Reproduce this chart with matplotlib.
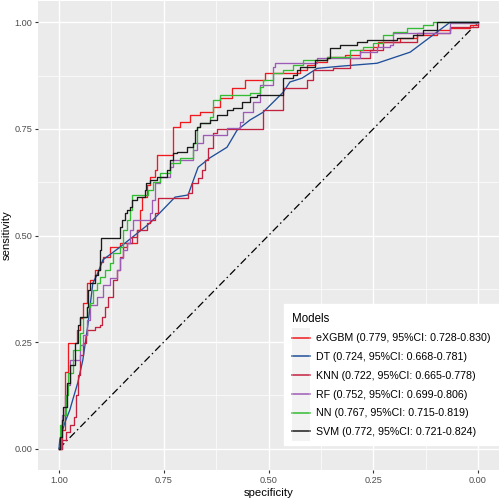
import matplotlib
matplotlib.use('Agg')
import matplotlib.pyplot as plt
from matplotlib.lines import Line2D
from matplotlib.patches import Rectangle

plt.rcParams['font.family'] = ['Liberation Sans', 'DejaVu Sans']

# models, AUC and 95% CI as shown in the legend
models = ['eXGBM', 'DT', 'KNN', 'RF', 'NN', 'SVM']
auc = [0.779, 0.724, 0.722, 0.752, 0.767, 0.772]
ci_low = [0.728, 0.668, 0.665, 0.699, 0.715, 0.721]
ci_high = [0.830, 0.781, 0.778, 0.806, 0.819, 0.824]
colors = ['#F0191E', '#1F4E9A', '#C2213F', '#9E5BB5', '#33BB33', '#1A1A1A']

# ROC points (specificity, sensitivity)
xgb_spec = [1.000, 0.993, 0.986, 0.979, 0.957, 0.950, 0.943, 0.933, 0.926, 0.914, 0.902, 0.895,
            0.878, 0.854, 0.814, 0.807, 0.802, 0.790, 0.783, 0.771, 0.766, 0.728, 0.711, 0.687,
            0.663, 0.632, 0.616, 0.587, 0.556, 0.508, 0.425, 0.408, 0.389, 0.360, 0.317, 0.281,
            0.250, 0.239, 0.186, 0.145, 0.098, 0.067, 0.019, 0.000]
xgb_sens = [0.000, 0.044, 0.180, 0.248, 0.279, 0.307, 0.342, 0.389, 0.396, 0.419, 0.438, 0.450,
            0.473, 0.482, 0.513, 0.560, 0.590, 0.618, 0.637, 0.653, 0.689, 0.754, 0.766, 0.782,
            0.789, 0.801, 0.822, 0.845, 0.864, 0.881, 0.888, 0.899, 0.906, 0.918, 0.923, 0.934,
            0.941, 0.953, 0.963, 0.970, 0.981, 0.986, 0.993, 1.000]

dt_spec = [1.000, 0.998, 0.986, 0.974, 0.967, 0.955, 0.943, 0.931, 0.924, 0.919, 0.909, 0.895,
           0.854, 0.783, 0.723, 0.692, 0.668, 0.640, 0.599, 0.575, 0.544, 0.513, 0.465, 0.449,
           0.420, 0.384, 0.329, 0.241, 0.162, 0.067, 0.000]
dt_sens = [0.000, 0.021, 0.061, 0.091, 0.115, 0.155, 0.208, 0.290, 0.349, 0.389, 0.408, 0.443,
           0.473, 0.529, 0.590, 0.595, 0.660, 0.682, 0.707, 0.747, 0.771, 0.789, 0.836, 0.860,
           0.869, 0.892, 0.897, 0.904, 0.930, 1.000, 1.000]

knn_spec = [1.000, 0.993, 0.983, 0.974, 0.964, 0.959, 0.955, 0.950, 0.943, 0.936, 0.933, 0.914,
            0.902, 0.897, 0.890, 0.883, 0.871, 0.862, 0.854, 0.847, 0.838, 0.826, 0.814, 0.790,
            0.783, 0.771, 0.764, 0.692, 0.683, 0.668, 0.659, 0.651, 0.644, 0.632, 0.623, 0.513,
            0.465, 0.408, 0.394, 0.346, 0.305, 0.258, 0.227, 0.145, 0.067, 0.000]
knn_sens = [0.000, 0.021, 0.040, 0.056, 0.075, 0.126, 0.173, 0.220, 0.248, 0.267, 0.279, 0.286,
            0.290, 0.309, 0.333, 0.356, 0.396, 0.419, 0.450, 0.473, 0.482, 0.497, 0.513, 0.529,
            0.536, 0.553, 0.588, 0.600, 0.623, 0.635, 0.653, 0.677, 0.705, 0.740, 0.749, 0.794,
            0.845, 0.864, 0.888, 0.892, 0.916, 0.934, 0.953, 0.974, 0.988, 1.000]

rf_spec = [1.000, 0.995, 0.993, 0.986, 0.981, 0.974, 0.950, 0.943, 0.933, 0.926, 0.909, 0.895,
           0.878, 0.862, 0.854, 0.847, 0.838, 0.830, 0.823, 0.783, 0.778, 0.771, 0.759, 0.735,
           0.728, 0.680, 0.671, 0.656, 0.599, 0.568, 0.561, 0.537, 0.520, 0.489, 0.484, 0.384,
           0.281, 0.241, 0.209, 0.203, 0.067, 0.000]
rf_sens = [0.000, 0.056, 0.080, 0.126, 0.150, 0.208, 0.244, 0.267, 0.302, 0.337, 0.356, 0.384,
           0.400, 0.419, 0.447, 0.466, 0.482, 0.513, 0.536, 0.553, 0.583, 0.623, 0.637, 0.660,
           0.677, 0.700, 0.717, 0.735, 0.752, 0.766, 0.789, 0.813, 0.852, 0.895, 0.904, 0.916,
           0.930, 0.941, 0.946, 0.974, 0.998, 1.000]

nn_spec = [1.000, 0.998, 0.990, 0.983, 0.979, 0.967, 0.950, 0.943, 0.933, 0.926, 0.919, 0.909,
           0.902, 0.890, 0.878, 0.871, 0.854, 0.847, 0.838, 0.830, 0.826, 0.788, 0.776, 0.759,
           0.735, 0.711, 0.680, 0.671, 0.663, 0.640, 0.632, 0.616, 0.544, 0.520, 0.513, 0.489,
           0.465, 0.442, 0.418, 0.360, 0.305, 0.274, 0.250, 0.227, 0.203, 0.169, 0.131, 0.107,
           0.000]
nn_sens = [0.000, 0.056, 0.080, 0.126, 0.178, 0.232, 0.272, 0.309, 0.333, 0.342, 0.372, 0.389,
           0.403, 0.419, 0.436, 0.459, 0.473, 0.513, 0.536, 0.560, 0.595, 0.607, 0.625, 0.646,
           0.670, 0.681, 0.717, 0.754, 0.763, 0.777, 0.817, 0.829, 0.834, 0.848, 0.864, 0.881,
           0.888, 0.899, 0.911, 0.918, 0.934, 0.941, 0.951, 0.970, 0.977, 0.986, 0.993, 1.000,
           1.000]

svm_spec = [1.000, 0.998, 0.993, 0.990, 0.981, 0.974, 0.962, 0.955, 0.950, 0.933, 0.931, 0.926,
            0.914, 0.907, 0.902, 0.900, 0.854, 0.850, 0.842, 0.838, 0.830, 0.826, 0.814, 0.795,
            0.792, 0.783, 0.766, 0.742, 0.735, 0.728, 0.718, 0.694, 0.680, 0.675, 0.671, 0.663,
            0.640, 0.623, 0.599, 0.585, 0.563, 0.544, 0.527, 0.465, 0.442, 0.432, 0.425, 0.389,
            0.360, 0.353, 0.329, 0.289, 0.265, 0.194, 0.155, 0.131, 0.098, 0.000]
svm_sens = [0.000, 0.028, 0.068, 0.098, 0.155, 0.197, 0.248, 0.290, 0.309, 0.333, 0.372, 0.389,
            0.408, 0.419, 0.466, 0.494, 0.520, 0.536, 0.553, 0.560, 0.567, 0.583, 0.590, 0.607,
            0.623, 0.630, 0.637, 0.653, 0.677, 0.693, 0.696, 0.707, 0.717, 0.747, 0.754, 0.763,
            0.770, 0.782, 0.794, 0.799, 0.813, 0.824, 0.829, 0.869, 0.876, 0.888, 0.895, 0.911,
            0.916, 0.939, 0.946, 0.953, 0.958, 0.963, 0.970, 0.981, 1.000, 1.000]

curves = [(xgb_spec, xgb_sens), (dt_spec, dt_sens), (knn_spec, knn_sens),
          (rf_spec, rf_sens), (nn_spec, nn_sens), (svm_spec, svm_sens)]

ticks = [0.0, 0.25, 0.5, 0.75, 1.0]
tick_labels = ['0.00', '0.25', '0.50', '0.75', '1.00']

fig = plt.figure(figsize=(5, 5), dpi=100)
ax = fig.add_axes([0.076, 0.06, 0.922, 0.938])
ax.set_facecolor('#EBEBEB')
for s in ax.spines.values():
    s.set_visible(False)

ax.set_xlim(1.05, -0.05)
ax.set_ylim(-0.05, 1.05)
ax.set_xticks(ticks)
ax.set_xticklabels(tick_labels)
ax.set_yticks(ticks)
ax.set_yticklabels(tick_labels)
ax.set_xticks([0.125, 0.375, 0.625, 0.875], minor=True)
ax.set_yticks([0.125, 0.375, 0.625, 0.875], minor=True)
ax.grid(which='major', color='white', linewidth=1.0)
ax.grid(which='minor', color='white', linewidth=0.5)
ax.set_axisbelow(True)
ax.tick_params(which='major', length=2.3, width=0.8, color='#333333',
               labelsize=6.6, labelcolor='#4D4D4D', pad=2)
ax.tick_params(which='minor', length=0)

ax.set_xlabel('specificity', fontsize=8.2, labelpad=2)
ax.set_ylabel('sensitivity', fontsize=8.2, labelpad=2)

# chance line
ax.plot([1, 0], [0, 1], color='black', linewidth=0.9,
        linestyle=(0, (6, 2.5, 1.2, 2.5)))

handles = []
for i, (sp, se) in enumerate(curves):
    if models[i] == 'DT':
        ax.plot(sp, se, color=colors[i], linewidth=0.95)
    else:
        ax.plot(sp, se, color=colors[i], linewidth=0.95, drawstyle='steps-post')
    handles.append(Line2D([], [], color=colors[i], linewidth=1.1))

labels = ['%s (%.3f, 95%%CI: %.3f-%.3f)' % (m, a, lo, hi)
          for m, a, lo, hi in zip(models, auc, ci_low, ci_high)]

leg = ax.legend(handles, labels, title='Models', loc='lower right',
                bbox_to_anchor=(0.998, 0.053), borderaxespad=0,
                fontsize=7.7, title_fontsize=8.3, frameon=True,
                fancybox=False, facecolor='white', edgecolor='white',
                framealpha=1, handlelength=1.7, handletextpad=0.5,
                labelspacing=0.82, borderpad=0.75, alignment='left')

# grey key background like ggplot's legend.key
fig.canvas.draw()
boxes = [h.get_window_extent() for h in leg.legend_handles]
x0 = min(b.x0 for b in boxes)
x1 = max(b.x1 for b in boxes)
yc = [(b.y0 + b.y1) / 2 for b in boxes]
step = (yc[0] - yc[-1]) / (len(yc) - 1)
fig.patches.append(Rectangle((x0, yc[-1] - step / 2), x1 - x0, yc[0] - yc[-1] + step,
                             transform=None, facecolor='#F2F2F2', edgecolor='none', zorder=6))
for h, y in zip(handles, yc):
    fig.lines.append(Line2D([x0 + 1, x1 - 1], [y, y], transform=None,
                            color=h.get_color(), linewidth=1.1, zorder=7))

fig.savefig('out.png', dpi=100)
